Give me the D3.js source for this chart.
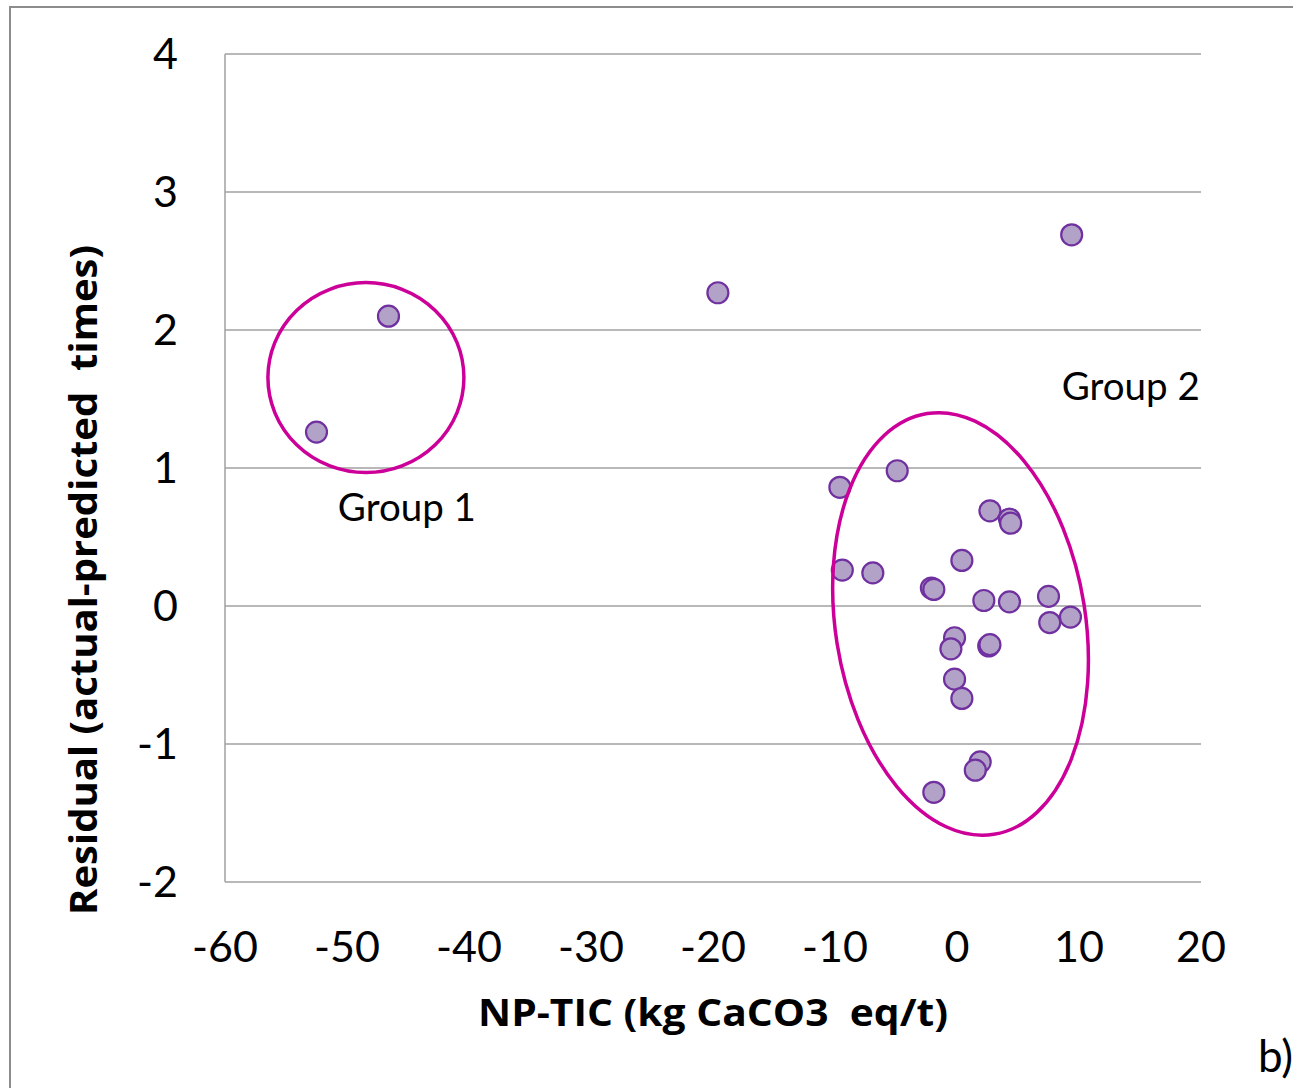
<!DOCTYPE html>
<html lang="en">
<head>
<meta charset="utf-8">
<title>Residual vs NP-TIC</title>
<script src="https://d3js.org/d3.v7.min.js"></script>
<style>
  body { margin: 0; background: #fff; }
  text { font-family: Lato, "Open Sans", sans-serif; fill: #000; }
  .title { font-family: "Open Sans", Lato, sans-serif; font-weight: bold; white-space: pre; }
</style>
</head>
<body>
<div id="chart"></div>
<script>
// data
var npTic = [-52.5, -46.6, -19.6, 9.4, -9.6, -4.9, 2.7, 4.3, 4.4, -9.4, -6.9, 0.4,
             -2.1, -1.9, 2.2, 4.3, 7.5, 7.6, 9.3, -0.2, -0.5, 2.6, 2.7, -0.2, 0.4,
             1.9, 1.5, -1.9];
var residual = [1.26, 2.10, 2.27, 2.69, 0.86, 0.98, 0.69, 0.63, 0.60, 0.26, 0.24, 0.33,
                0.13, 0.12, 0.04, 0.03, 0.07, -0.12, -0.08, -0.23, -0.31, -0.29, -0.28, -0.53, -0.67,
                -1.13, -1.19, -1.35];
var xTicks = [-60, -50, -40, -30, -20, -10, 0, 10, 20];
var yTicks = [-2, -1, 0, 1, 2, 3, 4];

// group annotations (centres in data units)
var groups = [
  {name: "Group 1", cx: -48.45, cy: 1.655, rx: 98, ry: 95, rot: 0, lx: -50.75, ly: 0.615, anchor: "start"},
  {name: "Group 2", cx: 0.29, cy: -0.13, rx: 125, ry: 213, rot: -9, lx: 19.9, ly: 1.49, anchor: "end"}
];

var W = 1293, H = 1088;
var svg = d3.select("#chart").append("svg")
  .attr("width", W).attr("height", H);

// outer frame (runs off the right and bottom edges)
svg.append("rect")
  .attr("x", 10).attr("y", 7)
  .attr("width", W + 20).attr("height", H + 20)
  .attr("fill", "none").attr("stroke", "#8c8c8c").attr("stroke-width", 2);

var x = d3.scaleLinear().domain([-60, 20]).range([225, 1201]);
var y = d3.scaleLinear().domain([-2, 4]).range([882, 54]);

// gridlines
svg.append("g").selectAll("line")
  .data(yTicks.filter(function(d) { return d > -2; }))
  .join("line")
    .attr("x1", x(-60)).attr("x2", x(20))
    .attr("y1", function(d) { return y(d); })
    .attr("y2", function(d) { return y(d); })
    .attr("stroke", "#a0a0a0").attr("stroke-width", 1.5);

// axes lines
svg.append("line")
  .attr("x1", x(-60)).attr("x2", x(-60)).attr("y1", y(4)).attr("y2", y(-2))
  .attr("stroke", "#a0a0a0").attr("stroke-width", 1.5);
svg.append("line")
  .attr("x1", x(-60)).attr("x2", x(20)).attr("y1", y(-2)).attr("y2", y(-2))
  .attr("stroke", "#a0a0a0").attr("stroke-width", 1.5);

// tick labels
svg.append("g").selectAll("text")
  .data(yTicks)
  .join("text")
    .attr("x", 178)
    .attr("y", function(d) { return y(d) + 15; })
    .attr("text-anchor", "end")
    .style("font-size", "43px")
    .text(function(d) { return d; });

svg.append("g").selectAll("text")
  .data(xTicks)
  .join("text")
    .attr("x", function(d) { return x(d); })
    .attr("y", 962)
    .attr("text-anchor", "middle")
    .style("font-size", "43px")
    .text(function(d) { return d; });

// axis titles
svg.append("text")
  .attr("class", "title")
  .attr("x", 478).attr("y", 1026)
  .attr("textLength", 470).attr("lengthAdjust", "spacingAndGlyphs")
  .style("font-size", "37px")
  .text("NP-TIC (kg CaCO3  eq/t)");

svg.append("text")
  .attr("class", "title")
  .attr("transform", "translate(97,915) rotate(-90)")
  .attr("textLength", 670).attr("lengthAdjust", "spacingAndGlyphs")
  .style("font-size", "37px")
  .text("Residual (actual-predicted  times)");

// points
svg.append("g").selectAll("circle")
  .data(npTic.map(function(v, i) { return [v, residual[i]]; }))
  .join("circle")
    .attr("cx", function(d) { return x(d[0]); })
    .attr("cy", function(d) { return y(d[1]); })
    .attr("r", 10.5)
    .attr("fill", "#b3a2c7")
    .attr("stroke", "#7030a0")
    .attr("stroke-width", 2.2);

// group ellipses and labels
groups.forEach(function(g) {
  svg.append("ellipse")
    .attr("transform", "translate(" + x(g.cx) + "," + y(g.cy) + ") rotate(" + g.rot + ")")
    .attr("rx", g.rx).attr("ry", g.ry)
    .attr("fill", "none")
    .attr("stroke", "#cc0099")
    .attr("stroke-width", 3.5);
  svg.append("text")
    .attr("x", x(g.lx)).attr("y", y(g.ly))
    .attr("text-anchor", g.anchor)
    .style("font-size", "38.5px")
    .text(g.name);
});

// panel letter
svg.append("text")
  .attr("x", 1258).attr("y", 1072)
  .style("font-size", "44px")
  .text("b)");
</script>
</body>
</html>
